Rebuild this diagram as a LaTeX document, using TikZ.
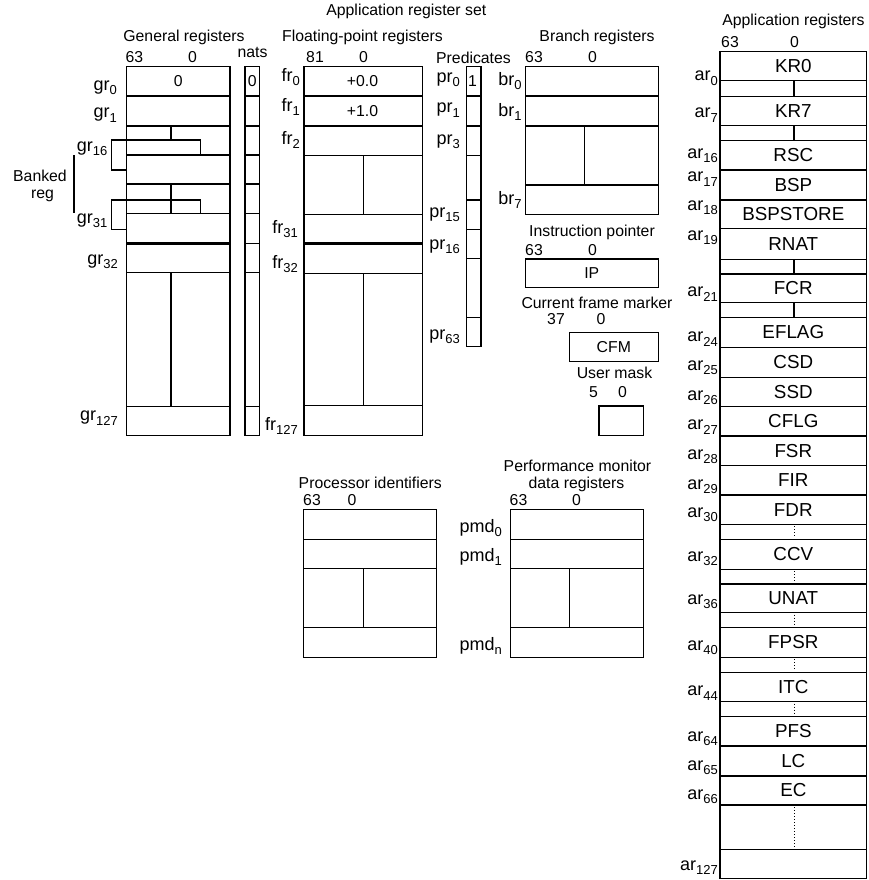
\documentclass[tikz,border=0pt]{standalone}
\usepackage{fontspec}
\setmainfont{Liberation Sans}
\newcommand{\sbs}[2]{#1\raisebox{-0.24em}{\fontsize{13}{14}\selectfont #2}}
\begin{document}
\begin{tikzpicture}[x=1pt,y=-1pt,
  ln/.style={line width=1.35pt},
  thk/.style={line width=2.7pt},
  hdr/.style={font=\fontsize{15.8}{17}\selectfont, inner sep=0pt},
  lbl/.style={font=\fontsize{18}{20}\selectfont, inner sep=0pt, anchor=east},
  rn/.style={font=\fontsize{18.8}{20}\selectfont, inner sep=0pt},
  dotv/.style={line width=0.9pt, dash pattern=on 1pt off 2pt}]
\useasboundingbox (0,0) rectangle (868,880);

% ---------- titles ----------
\node[hdr] (tset) at (406.3,11.5) {Application register set};
\node[hdr] (tgr) at (184,37) {General registers};
\node[hdr] (tnats) at (252.5,52.5) {nats};
\node[hdr] (tgr63) at (134.5,57.5) {63};
\node[hdr] (tgr0) at (192.5,57.5) {0};
\node[hdr] (tfr) at (362.5,37.5) {Floating-point registers};
\node[hdr] (tfr81) at (315,57.5) {81};
\node[hdr] (tfr0) at (363.5,57.5) {0};
\node[hdr] (tpr) at (473.5,57.5) {Predicates};
\node[hdr] (tbr) at (597,37.5) {Branch registers};
\node[hdr] (tbr63) at (534,57.5) {63};
\node[hdr] (tbr0) at (592.5,57.5) {0};
\node[hdr] (tar) at (793.5,21.5) {Application registers};
\node[hdr] (tar63) at (730,42) {63};
\node[hdr] (tar0) at (794.5,42) {0};
\node[hdr] (tip) at (592,232.5) {Instruction pointer};
\node[hdr] (tip63) at (534,250.5) {63};
\node[hdr] (tip0) at (592.5,250.5) {0};
\node[hdr] (tcfm) at (597,302.5) {Current frame marker};
\node[hdr] (tcfm37) at (556,319) {37};
\node[hdr] (tcfm0) at (601,319) {0};
\node[hdr] (tum) at (614.5,372.5) {User mask};
\node[hdr] (tum5) at (593.5,392.5) {5};
\node[hdr] (tum0) at (622.5,392.5) {0};
\node[hdr] (tpi) at (370.3,482.5) {Processor identifiers};
\node[hdr] (tpi63) at (312,500) {63};
\node[hdr] (tpi0) at (352,500) {0};
\node[hdr] (tpm1) at (577.5,466) {Performance monitor};
\node[hdr] (tpm2) at (576.5,484) {data registers};
\node[hdr] (tpm63) at (518.5,500) {63};
\node[hdr] (tpm0) at (576.5,500) {0};
\node[hdr] (tbk1) at (40,176) {Banked};
\node[hdr] (tbk2) at (42.5,196) {reg};
\draw[thk] (74,155) -- (74,213);

% ---------- general registers ----------
\draw[ln] (126.7,66.7) rectangle (230,435.7);
\foreach \y in {96,126,155,184,213.5,272.7,406.7} \draw[ln] (126.7,\y) -- (230,\y);
\draw[thk] (126.7,243.3) -- (230,243.3);
\draw[ln] (171,126) -- (171,140);
\draw[ln] (171,184) -- (171,213.5);
\draw[ln] (171,272.7) -- (171,406.7);
\draw[ln] (126.7,170) -- (111.7,170) -- (111.7,140) -- (200.7,140) -- (200.7,155);
\draw[ln] (126.7,229.3) -- (111.7,229.3) -- (111.7,200) -- (200.7,200) -- (200.7,213.5);
\node[hdr] (g0v) at (178.3,81) {0};
\node[lbl] (lg0) at (117,87.5) {\sbs{gr}{0}};
\node[lbl] (lg1) at (117,115) {\sbs{gr}{1}};
\node[lbl] (lg16) at (107.5,148.5) {\sbs{gr}{16}};
\node[lbl] (lg31) at (107.5,221) {\sbs{gr}{31}};
\node[lbl] (lg32) at (118,261.5) {\sbs{gr}{32}};
\node[lbl] (lg127) at (118,418) {\sbs{gr}{127}};

% ---------- nats ----------
\draw[ln] (245,66.7) rectangle (259.3,435.7);
\foreach \y in {96,126,155,184,213.5,243.3,272.7,406.7} \draw[ln] (245,\y) -- (259.3,\y);
\node[hdr] (n0v) at (252.2,81) {0};

% ---------- floating point ----------
\draw[ln] (304,66.7) rectangle (422.3,435.7);
\foreach \y in {96,126,155.3,214.3,273.3,405.7} \draw[ln] (304,\y) -- (422.3,\y);
\draw[thk] (304,243.5) -- (422.3,243.5);
\draw[ln] (363.3,155.3) -- (363.3,214.3);
\draw[ln] (363.3,273.3) -- (363.3,405.7);
\node[hdr] (f0v) at (362.5,81) {+0.0};
\node[hdr] (f1v) at (362.5,111) {+1.0};
\node[lbl] (lf0) at (300,77) {\sbs{fr}{0}};
\node[lbl] (lf1) at (300,107) {\sbs{fr}{1}};
\node[lbl] (lf2) at (300,140) {\sbs{fr}{2}};
\node[lbl] (lf31) at (298,229) {\sbs{fr}{31}};
\node[lbl] (lf32) at (298,264) {\sbs{fr}{32}};
\node[lbl] (lf127) at (298,426) {\sbs{fr}{127}};

% ---------- predicates ----------
\draw[ln] (466.7,66.7) rectangle (481,346.7);
\foreach \y in {96,126,155.3,200,229.3,258.3,317.7} \draw[ln] (466.7,\y) -- (481,\y);
\node[hdr] (p0v) at (472.5,81) {1};
\node[lbl] (lp0) at (460,80) {\sbs{pr}{0}};
\node[lbl] (lp1) at (460,110) {\sbs{pr}{1}};
\node[lbl] (lp3) at (460,142) {\sbs{pr}{3}};
\node[lbl] (lp15) at (460,215) {\sbs{pr}{15}};
\node[lbl] (lp16) at (460,247) {\sbs{pr}{16}};
\node[lbl] (lp63) at (460,337) {\sbs{pr}{63}};

% ---------- branch ----------
\draw[ln] (525.3,66.7) rectangle (658.3,214.3);
\foreach \y in {96,126,185} \draw[ln] (525.3,\y) -- (658.3,\y);
\draw[ln] (584.3,126) -- (584.3,185);
\node[lbl] (lb0) at (521.7,81) {\sbs{br}{0}};
\node[lbl] (lb1) at (521.7,112) {\sbs{br}{1}};
\node[lbl] (lb7) at (521.7,200) {\sbs{br}{7}};

% ---------- IP, CFM, UM ----------
\draw[ln] (525.3,259) rectangle (658.3,287.7);
\node[hdr] (ipv) at (591.8,273.3) {IP};
\draw[ln] (569.3,332.3) rectangle (658.3,361.7);
\node[hdr] (cfmv) at (613.8,347) {CFM};
\draw[ln] (599,406) rectangle (643.3,435.7);

% ---------- processor identifiers ----------
\draw[ln] (303.3,509.3) rectangle (436.7,657.3);
\foreach \y in {539.3,568.3,627.7} \draw[ln] (303.3,\y) -- (436.7,\y);
\draw[ln] (363.3,568.3) -- (363.3,627.7);

% ---------- performance monitor ----------
\draw[ln] (510.7,509.3) rectangle (643.3,657.3);
\foreach \y in {539.3,568.3,627.7} \draw[ln] (510.7,\y) -- (643.3,\y);
\draw[ln] (569.3,568.3) -- (569.3,627.7);
\node[lbl] (lm0) at (502,528) {\sbs{pmd}{0}};
\node[lbl] (lm1) at (502,557) {\sbs{pmd}{1}};
\node[lbl] (lmn) at (502,646) {\sbs{pmd}{n}};

% ---------- application registers ----------
\draw[ln] (720,51.7) rectangle (866.7,878.3);
\foreach \y in {80.7,96.7,125.3,140.7,170,200,228.7,259.3,274,302.7,317.7,347.3,377.3,406.7,436,465.7,495,524.3,539.3,569.3,584,612.7,627.7,657.3,672.3,701.7,716.7,746,776,805,849.3}
  \draw[ln] (720,\y) -- (866.7,\y);
\foreach \t/\b in {80.7/96.7,125.3/140.7,259.3/274,302.7/317.7}
  \draw[ln] (794,\t) -- (794,\b);
\foreach \t/\b in {524.3/539.3,569.3/584,612.7/627.7,657.3/672.3,701.7/716.7,805/849.3}
  \draw[dotv] (794,\t+2) -- (794,\b-2);
\foreach \t/\b/\n/\s/\ly in {51.7/80.7/KR0/0/78.3, 96.7/125.3/KR7/7/115, 140.7/170/RSC/16/156,
  170/200/BSP/17/179, 200/228.7/BSPSTORE/18/208, 228.7/259.3/RNAT/19/237.5, 274/302.7/FCR/21/294,
  317.7/347.3/EFLAG/24/339, 347.3/377.3/CSD/25/368, 377.3/406.7/SSD/26/398, 406.7/436/CFLG/27/427,
  436/465.7/FSR/28/457, 465.7/495/FIR/29/487, 495/524.3/FDR/30/515, 539.3/569.3/CCV/32/559,
  584/612.7/UNAT/36/601.7, 627.7/657.3/FPSR/40/648, 672.3/701.7/ITC/44/693, 716.7/746/PFS/64/739,
  746/776/LC/65/767.5, 776/805/EC/66/797}
{
  \node[rn] (r\n) at (793.3,{(\t+\b)/2}) {\n};
  \node[lbl] (la\s) at (718,\ly) {\sbs{ar}{\s}};
}
\node[lbl] (la127) at (718,867.5) {\sbs{ar}{127}};
\end{tikzpicture}
\end{document}
